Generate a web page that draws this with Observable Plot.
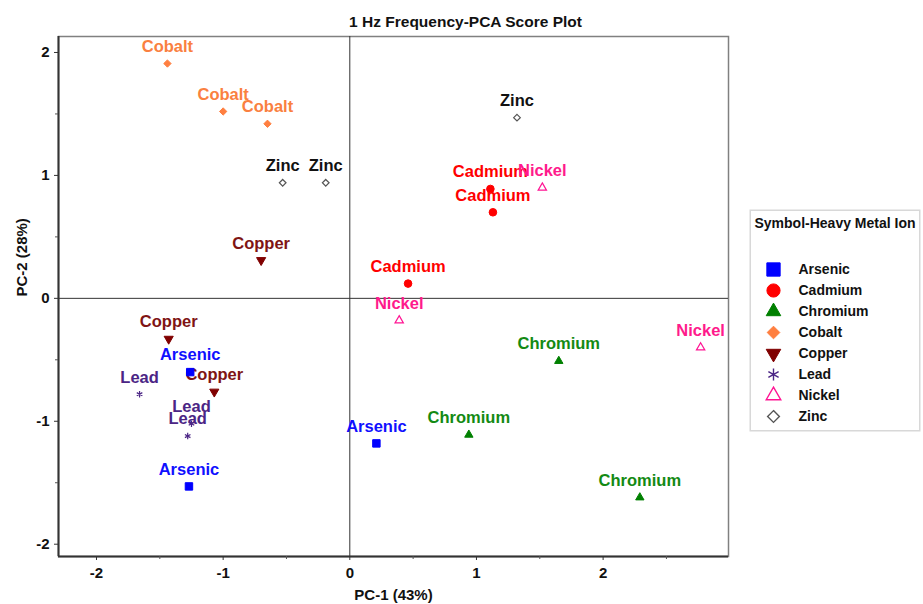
<!DOCTYPE html>
<html>
<head>
<meta charset="utf-8">
<script src="https://cdn.jsdelivr.net/npm/d3@7"></script>
<script src="https://cdn.jsdelivr.net/npm/@observablehq/plot@0.6"></script>
<style>
  html, body { margin: 0; padding: 0; background: #fff; }
  #wrap { position: relative; width: 923px; height: 604px; }
  #legend { position: absolute; left: 749px; top: 209px; }
  svg { overflow: visible; }
</style>
</head>
<body>
<div id="wrap"><div id="main"></div><div id="legend"></div></div>
<script>
// ---- data ----
const title = "1 Hz Frequency-PCA Score Plot";
const xLabel = "PC-1 (43%)";
const yLabel = "PC-2 (28%)";
const legendTitle = "Symbol-Heavy Metal Ion";
const metals = ["Arsenic", "Cadmium", "Chromium", "Cobalt", "Copper", "Lead", "Nickel", "Zinc"];
const pointMetal = [
  "Arsenic", "Arsenic", "Arsenic",
  "Cadmium", "Cadmium", "Cadmium",
  "Chromium", "Chromium", "Chromium",
  "Cobalt", "Cobalt", "Cobalt",
  "Copper", "Copper", "Copper",
  "Lead", "Lead", "Lead",
  "Nickel", "Nickel", "Nickel",
  "Zinc", "Zinc", "Zinc"
];
const pc1 = [0.21, -1.27, -1.26,  0.46, 1.11, 1.13,  1.65, 0.94, 2.29,  -1.44, -1.00, -0.65,
             -0.70, -1.43, -1.07,  -1.66, -1.25, -1.28,  1.52, 0.39, 2.77,  -0.53, -0.19, 1.32];
const pc2 = [-1.18, -1.53, -0.60,  0.12, 0.89, 0.70,  -0.51, -1.11, -1.62,  1.91, 1.52, 1.42,
             0.31, -0.33, -0.76,  -0.78, -1.02, -1.12,  0.90, -0.18, -0.40,  0.94, 0.94, 1.47];
const xMajorTicks = [-2, -1, 0, 1, 2];
const xMinorTicks = [-1.5, -0.5, 0.5, 1.5, 2.5];
const yMajorTicks = [-2, -1, 0, 1, 2];
const yMinorTicks = [-1.5, -0.5, 0.5, 1.5];
const xDomain = [-2.3, 2.99];
const yDomain = [-2.1, 2.13];

// ---- styles ----
const triangleDown = {
  draw(context, size) {
    const s3 = Math.sqrt(3);
    const y = -Math.sqrt(size / (s3 * 3));
    context.moveTo(0, -y * 2);
    context.lineTo(-s3 * y, y);
    context.lineTo(s3 * y, y);
    context.closePath();
  }
};
const style = {
  Arsenic:  {color: "#0000FF", label: "#1010FF", symbol: "square",    filled: true,  r: 4.2, rl: 7.5},
  Cadmium:  {color: "#FF0000", label: "#FF0000", symbol: "circle",    filled: true,  r: 3.8, rl: 6.6},
  Chromium: {color: "#008000", label: "#138A13", symbol: "triangle",  filled: true,  r: 3.1, rl: 5.4},
  Cobalt:   {color: "#FF7F40", label: "#FA8040", symbol: "diamond2",  filled: true,  r: 3.3, rl: 5.7},
  Copper:   {color: "#800000", label: "#7F1414", symbol: triangleDown, filled: true, r: 3.4, rl: 5.4},
  Lead:     {color: "#4B2585", label: "#4B2585", symbol: "asterisk",  filled: false, r: 3.0, rl: 5.6},
  Nickel:   {color: "#FF1493", label: "#FF1A8C", symbol: "triangle",  filled: false, r: 3.1, rl: 5.4},
  Zinc:     {color: "#555555", label: "#111111", symbol: "diamond2",  filled: false, r: 3.0, rl: 5.3}
};
const font = "'Liberation Sans', Arial, sans-serif";

const points = pointMetal.map((m, i) => ({metal: m, x: pc1[i], y: pc2[i]}));

const main = Plot.plot({
  width: 923,
  height: 604,
  marginLeft: 58,
  marginRight: 195,
  marginTop: 36,
  marginBottom: 48,
  style: {fontFamily: font, background: "white"},
  x: {domain: xDomain},
  y: {domain: yDomain},
  marks: [
    Plot.frame({stroke: "#808080", strokeWidth: 1.5}),
    Plot.ruleX([xDomain[0]], {stroke: "#333", strokeWidth: 2}),
    Plot.ruleY([yDomain[0]], {stroke: "#333", strokeWidth: 2}),
    Plot.ruleX([0], {stroke: "#333", strokeWidth: 1}),
    Plot.ruleY([0], {stroke: "#333", strokeWidth: 1}),
    Plot.axisX({ticks: xMajorTicks, tickSize: 4, tickPadding: 7, tickFormat: d => String(d),
                fontSize: 15, fontWeight: "bold", fill: "#111", stroke: "#333", label: null}),
    Plot.axisX({ticks: xMinorTicks, tickSize: 3, tickFormat: () => "", stroke: "#555", label: null}),
    Plot.axisY({ticks: yMajorTicks, tickSize: 4, tickPadding: 5, tickFormat: d => String(d),
                fontSize: 15, fontWeight: "bold", fill: "#111", stroke: "#333", label: null}),
    Plot.axisY({ticks: yMinorTicks, tickSize: 3, tickFormat: () => "", stroke: "#555", label: null}),
    Plot.text([title], {frameAnchor: "top", lineAnchor: "middle", dx: 72, dy: -14, fontSize: 15.5, fontWeight: "bold", fill: "#111"}),
    Plot.text([xLabel], {frameAnchor: "bottom", lineAnchor: "middle", dy: 39, fontSize: 15, fontWeight: "bold", fill: "#111"}),
    Plot.text([yLabel], {frameAnchor: "left", dx: -36, rotate: -90, fontSize: 15, fontWeight: "bold", fill: "#111"}),
    Plot.text(points, {x: "x", y: "y", text: "metal", dy: -17, fontSize: 16.5, fontWeight: "bold",
                       fill: d => style[d.metal].label}),
    ...metals.map(m => {
      const s = style[m];
      return Plot.dot(points.filter(d => d.metal === m), {
        x: "x", y: "y", symbol: s.symbol, r: s.r,
        fill: s.filled ? s.color : (s.symbol === "asterisk" ? "none" : "white"),
        stroke: s.color, strokeWidth: s.filled ? 1 : 1.2
      });
    })
  ]
});
document.getElementById("main").appendChild(main);

const legend = Plot.plot({
  width: 171,
  height: 222,
  margin: 0,
  style: {fontFamily: font, background: "white"},
  x: {axis: null, domain: [0, 1]},
  y: {axis: null, type: "point", padding: 0, domain: metals, range: [57, 209]},
  marks: [
    Plot.frame({stroke: "#d8d8d8", strokeWidth: 1.5, inset: 0.75}),
    Plot.text([legendTitle], {frameAnchor: "top", lineAnchor: "middle", dy: 14, fontSize: 14, fontWeight: "bold", fill: "#111"}),
    ...metals.map(m => {
      const s = style[m];
      return Plot.dot([m], {
        y: d => d, frameAnchor: "left", dx: 24, symbol: s.symbol, r: s.rl,
        fill: s.filled ? s.color : (s.symbol === "asterisk" ? "none" : "white"),
        stroke: s.color, strokeWidth: s.filled ? 1 : 1.4
      });
    }),
    Plot.text(metals, {y: d => d, text: d => d, frameAnchor: "left", dx: 49, textAnchor: "start",
                       fontSize: 14, fontWeight: "bold", fill: "#111"})
  ]
});
document.getElementById("legend").appendChild(legend);
</script>
</body>
</html>
